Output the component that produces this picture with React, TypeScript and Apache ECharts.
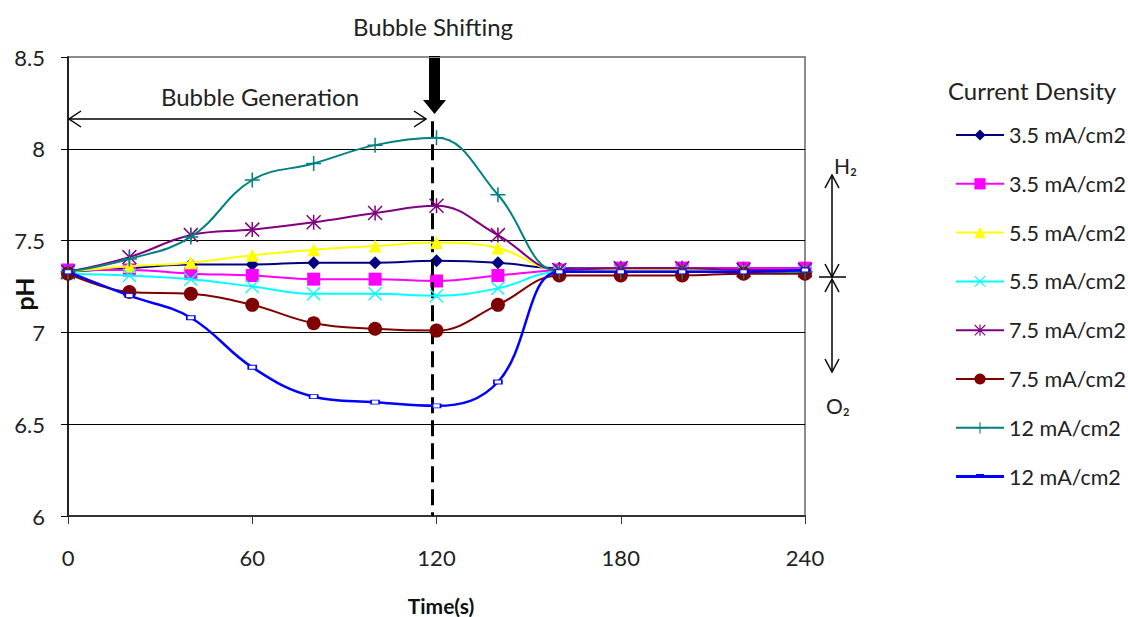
import React, { useEffect, useRef } from "react";
import * as echarts from "echarts";

const timeSec = [0, 20, 40, 60, 80, 100, 120, 140, 160, 180, 200, 220, 240];
const xTicks = [0, 60, 120, 180, 240];
const seriesNames = [
  "3.5 mA/cm2",
  "3.5 mA/cm2 ",
  "5.5 mA/cm2",
  "5.5 mA/cm2 ",
  "7.5 mA/cm2",
  "7.5 mA/cm2 ",
  "12 mA/cm2",
  "12 mA/cm2 ",
];
const cd35a = [7.33, 7.35, 7.37, 7.37, 7.38, 7.38, 7.39, 7.38, 7.35, 7.35, 7.35, 7.35, 7.35];
const cd35b = [7.34, 7.34, 7.32, 7.31, 7.29, 7.29, 7.28, 7.31, 7.34, 7.35, 7.35, 7.35, 7.35];
const cd55a = [7.33, 7.36, 7.38, 7.42, 7.45, 7.47, 7.49, 7.46, 7.34, 7.34, 7.34, 7.34, 7.34];
const cd55b = [7.32, 7.31, 7.29, 7.25, 7.21, 7.21, 7.2, 7.24, 7.33, 7.33, 7.33, 7.33, 7.33];
const cd75a = [7.33, 7.41, 7.53, 7.56, 7.6, 7.65, 7.69, 7.53, 7.34, 7.35, 7.35, 7.34, 7.34];
const cd75b = [7.32, 7.22, 7.21, 7.15, 7.05, 7.02, 7.01, 7.15, 7.31, 7.31, 7.31, 7.32, 7.32];
const cd12a = [7.33, 7.4, 7.52, 7.83, 7.92, 8.02, 8.06, 7.75, 7.33, 7.33, 7.33, 7.33, 7.33];
const cd12b = [7.33, 7.2, 7.08, 6.81, 6.65, 6.62, 6.6, 6.73, 7.33, 7.33, 7.33, 7.33, 7.34];
const allValues = [cd35a, cd35b, cd55a, cd55b, cd75a, cd75b, cd12a, cd12b];
const colors = ["#000080", "#ff00ff", "#ffff00", "#00ffff", "#800080", "#800000", "#008080", "#0000ff"];
const shiftTime = 118.5;

const X_PATH = "path://M0,0.7L0.7,0L10,9.3L9.3,10ZM10,0.7L0.7,10L0,9.3L9.3,0Z";
const AST_PATH = "path://M0,0.7L0.7,0L10,9.3L9.3,10ZM10,0.7L0.7,10L0,9.3L9.3,0ZM4.5,0h1v10h-1z";
const PLUS_PATH = "path://M4.5,0h1v10h-1zM0,4.5h10v1h-10z";
const DASH_LEGEND_PATH =
  "path://M0,0h0.01v0.01h-0.01zM47.99,13.99h0.01v0.01h-0.01zM0,5.5h48v3h-48zM20,4.5h8v1h-8z";

const symbols: any[] = ["diamond", "rect", "triangle", X_PATH, AST_PATH, "circle", PLUS_PATH, "rect"];
const symbolSizes: any[] = [13, 13, 13, 14, 15, 14, 15, [8, 4]];
const lineWidths = [2, 2, 2, 2, 2, 2, 2, 2.5];

const FONT = "Lato";

export default function App() {
  const ref = useRef<HTMLDivElement>(null);
  useEffect(() => {
    const chart = echarts.init(ref.current!, null, { renderer: "svg" });
    const series: any[] = allValues.map((vals, i) => ({
      name: seriesNames[i],
      type: "line",
      smooth: 0.4,
      data: vals.map((v, j) => [timeSec[j], v]),
      symbol: symbols[i],
      symbolSize: symbolSizes[i],
      showAllSymbol: true,
      color: colors[i],
      itemStyle:
        i === 7
          ? { color: "#ffffff", borderColor: colors[i], borderWidth: 1.2 }
          : { color: colors[i], borderWidth: 0 },
      lineStyle: { color: colors[i], width: lineWidths[i] },
      z: 3 + i,
    }));
    series[0].markLine = {
      silent: true,
      symbol: "none",
      label: { show: false },
      lineStyle: { color: "#000", width: 3, type: [16, 7] },
      data: [[{ coord: [shiftTime, 8.15] }, { coord: [shiftTime, 6] }]],
    };
    const legendData: any[] = seriesNames.map((n, i) =>
      i === 7
        ? { name: n, icon: DASH_LEGEND_PATH, itemStyle: { color: colors[7], borderWidth: 0 } }
        : { name: n }
    );
    chart.setOption({
      animation: false,
      backgroundColor: "#ffffff",
      grid: {
        left: 68,
        right: 323,
        top: 57,
        bottom: 101,
        show: true,
        borderColor: "#8c8c8c",
        borderWidth: 2,
        outerBoundsMode: "none",
        containLabel: false,
      },
      xAxis: {
        type: "value",
        min: 0,
        max: 240,
        interval: 60,
        axisLine: { show: true, lineStyle: { color: "#333", width: 2 } },
        axisTick: { show: true, length: 8, lineStyle: { color: "#333" }, customValues: xTicks },
        axisLabel: { margin: 30, fontFamily: FONT, fontSize: 22, color: "#222", customValues: xTicks },
        splitLine: { show: false },
      },
      yAxis: {
        type: "value",
        min: 6,
        max: 8.5,
        interval: 0.5,
        axisLine: { show: true, lineStyle: { color: "#000", width: 1.5 } },
        axisTick: { show: true, length: 7, lineStyle: { color: "#000" } },
        axisLabel: { margin: 23, fontFamily: FONT, fontSize: 22, color: "#222" },
        splitLine: {
          show: true,
          lineStyle: { color: ["#000", "#000", "#000", "#000", "#000", "#8c8c8c"], width: 1.2 },
        },
      },
      legend: {
        orient: "vertical",
        left: 950,
        top: 119,
        itemWidth: 48,
        itemHeight: 14,
        itemGap: 26.8,
        formatter: (name: string) => name.trim(),
        textStyle: { fontFamily: FONT, fontSize: 21.5, color: "#222", lineHeight: 22 },
        data: legendData,
      },
      graphic: [
        { type: "text", x: 948, y: 90, style: { text: "Current Density", fontFamily: FONT, fontSize: 24, fill: "#222", verticalAlign: "middle" } },
        { type: "text", x: 433, y: 26, style: { text: "Bubble Shifting", fontFamily: FONT, fontSize: 24, fill: "#222", align: "center", verticalAlign: "middle" } },
        { type: "text", x: 260, y: 96, style: { text: "Bubble Generation", fontFamily: FONT, fontSize: 24, fill: "#222", align: "center", verticalAlign: "middle" } },
        { type: "text", x: 441, y: 605, style: { text: "Time(s)", fontFamily: FONT, fontSize: 21, fontWeight: "bold", fill: "#111", align: "center", verticalAlign: "middle" } },
        { type: "text", x: 24, y: 294, rotation: Math.PI / 2, style: { text: "pH", fontFamily: FONT, fontSize: 25, fontWeight: "bold", fill: "#111", align: "center", verticalAlign: "middle" } },
        // bubble shifting arrow
        { type: "rect", shape: { x: 429, y: 56, width: 11, height: 46 }, style: { fill: "#000" } },
        { type: "polygon", shape: { points: [[423, 100], [446, 100], [434.5, 114]] }, style: { fill: "#000" } },
        // double arrow
        { type: "line", shape: { x1: 69, y1: 119, x2: 426, y2: 119 }, style: { stroke: "#000", lineWidth: 1.5 } },
        { type: "polyline", shape: { points: [[81, 111], [69, 119], [81, 127]] }, style: { stroke: "#000", lineWidth: 1.5, fill: "none" } },
        { type: "polyline", shape: { points: [[414, 111], [426, 119], [414, 127]] }, style: { stroke: "#000", lineWidth: 1.5, fill: "none" } },
        // H2 / O2 arrows
        { type: "line", shape: { x1: 832, y1: 175, x2: 832, y2: 277 }, style: { stroke: "#000", lineWidth: 1.5 } },
        { type: "polyline", shape: { points: [[825, 188], [832, 175], [839, 188]] }, style: { stroke: "#000", lineWidth: 1.5, fill: "none" } },
        { type: "polyline", shape: { points: [[825, 264], [832, 277], [839, 264]] }, style: { stroke: "#000", lineWidth: 1.5, fill: "none" } },
        { type: "line", shape: { x1: 819, y1: 277, x2: 846, y2: 277 }, style: { stroke: "#000", lineWidth: 1.5 } },
        { type: "line", shape: { x1: 832, y1: 279, x2: 832, y2: 372 }, style: { stroke: "#000", lineWidth: 1.5 } },
        { type: "polyline", shape: { points: [[825, 292], [832, 279], [839, 292]] }, style: { stroke: "#000", lineWidth: 1.5, fill: "none" } },
        { type: "polyline", shape: { points: [[825, 359], [832, 372], [839, 359]] }, style: { stroke: "#000", lineWidth: 1.5, fill: "none" } },
        { type: "text", x: 834, y: 165, style: { text: "H₂", fontFamily: FONT, fontSize: 21, fill: "#222", verticalAlign: "middle" } },
        { type: "text", x: 826, y: 405, style: { text: "O₂", fontFamily: FONT, fontSize: 21, fill: "#222", verticalAlign: "middle" } },
      ],
      series,
    });
    return () => chart.dispose();
  }, []);
  return <div ref={ref} style={{ position: "fixed", left: 0, top: 0, width: 1128, height: 617 }} />;
}
